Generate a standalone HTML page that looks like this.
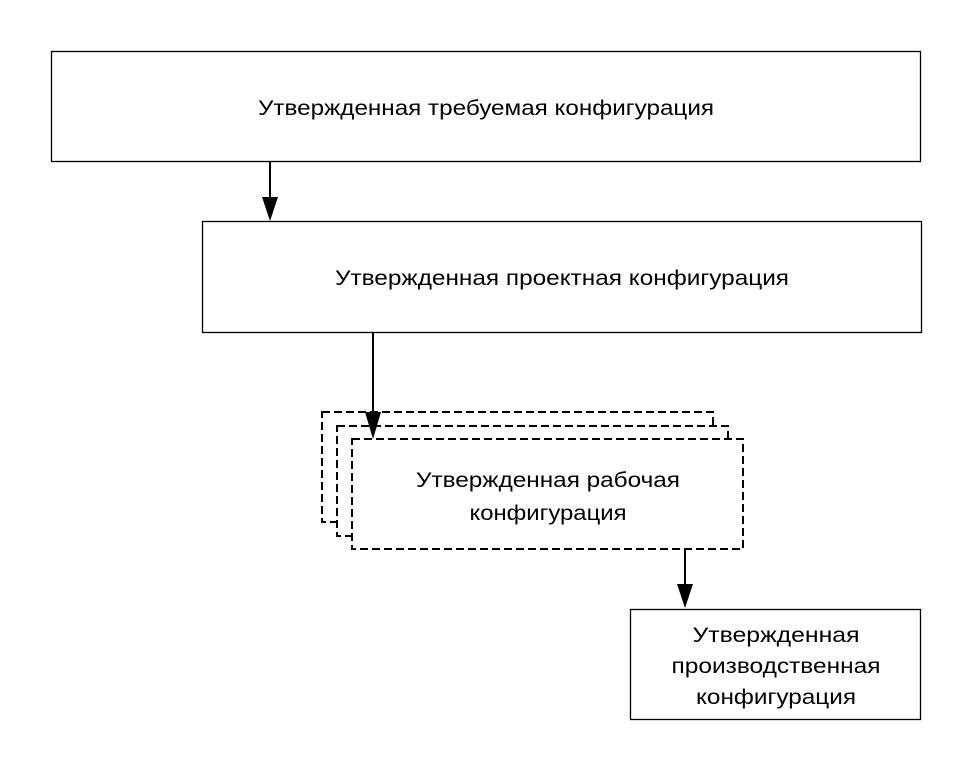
<!DOCTYPE html>
<html><head><meta charset="utf-8"><style>html,body{margin:0;padding:0;background:#fff}svg{display:block}</style></head>
<body>
<svg width="972" height="772" xmlns="http://www.w3.org/2000/svg" font-family="'Liberation Sans', sans-serif" font-size="21" fill="#000">
<rect x="0" y="0" width="972" height="772" fill="#fff"/>
<g fill="none" stroke="#000" stroke-width="1.3">
<rect x="51.5" y="51.5" width="869" height="110"/>
<rect x="202.5" y="221.5" width="719" height="111"/>
<rect x="630.5" y="609.5" width="290" height="110"/>
</g>
<g fill="#fff" stroke="#000" stroke-width="2" stroke-dasharray="8,4">
<rect x="322" y="412" width="391" height="110"/>
<rect x="337" y="426" width="391" height="110"/>
<rect x="352" y="439" width="391" height="110"/>
</g>
<g stroke="#000" stroke-width="2">
<line x1="270" y1="162" x2="270" y2="200"/>
<line x1="373" y1="333" x2="373" y2="412"/>
<line x1="685" y1="549" x2="685" y2="585"/>
</g>
<g fill="#000">
<polygon points="262,197 278,197 270,221"/>
<polygon points="365,412 381,412 373,439"/>
<polygon points="677,584 693,584 685,608"/>
</g>
<g text-anchor="middle">
<text x="486" y="115" textLength="456" lengthAdjust="spacingAndGlyphs">Утвержденная требуемая конфигурация</text>
<text x="562" y="285" textLength="454" lengthAdjust="spacingAndGlyphs">Утвержденная проектная конфигурация</text>
<text x="548" y="487" textLength="264" lengthAdjust="spacingAndGlyphs">Утвержденная рабочая</text>
<text x="548" y="520" textLength="157" lengthAdjust="spacingAndGlyphs">конфигурация</text>
<text x="776" y="642" textLength="167" lengthAdjust="spacingAndGlyphs">Утвержденная</text>
<text x="776" y="673" textLength="209" lengthAdjust="spacingAndGlyphs">производственная</text>
<text x="776" y="704" textLength="160" lengthAdjust="spacingAndGlyphs">конфигурация</text>
</g>
</svg>
</body></html>
